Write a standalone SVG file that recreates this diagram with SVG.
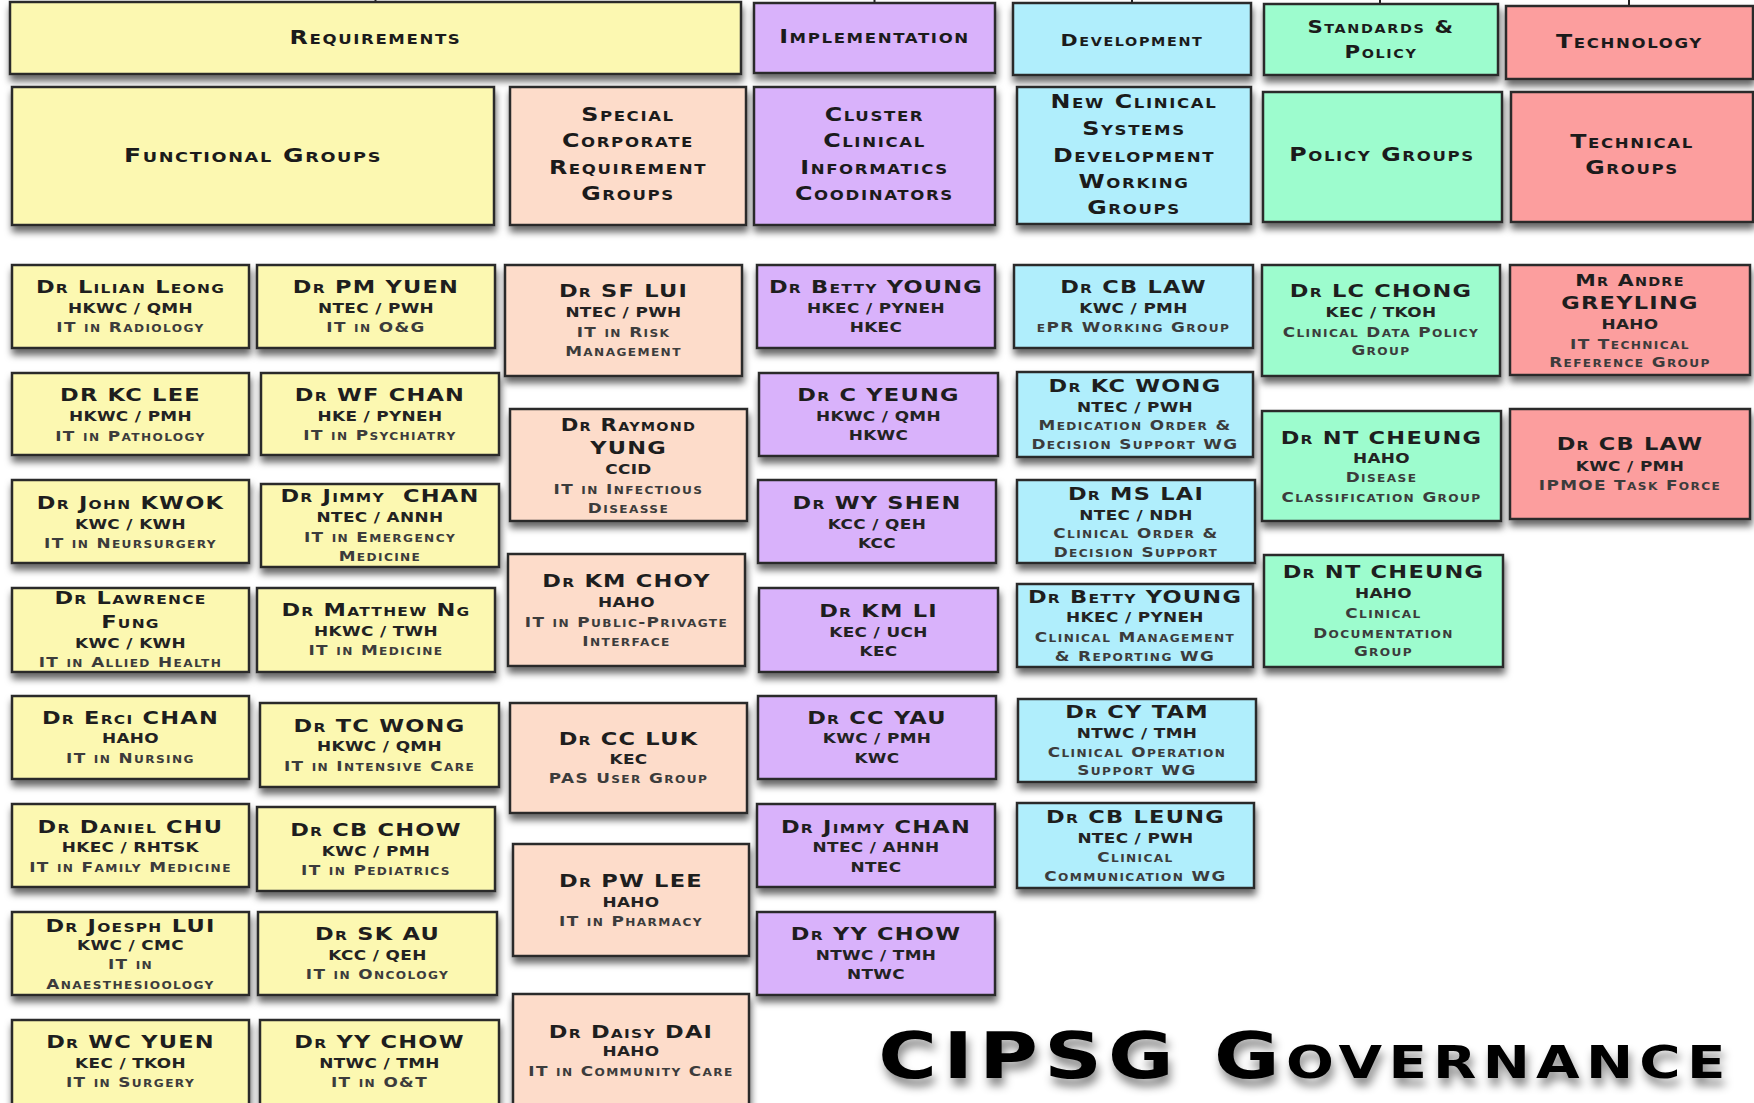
<svg xmlns="http://www.w3.org/2000/svg" width="1754" height="1103" viewBox="0 0 1754 1103">
  <defs>
    <filter id="sh" x="-10%" y="-15%" width="125%" height="150%">
      <feDropShadow dx="1" dy="6" stdDeviation="3.5" flood-color="#000" flood-opacity="0.6"/>
    </filter>
    <filter id="tsh" x="-5%" y="-20%" width="110%" height="160%">
      <feDropShadow dx="2" dy="8" stdDeviation="4" flood-color="#000" flood-opacity="0.45"/>
    </filter>
    <style>
      rect { stroke: #2c2c2c; stroke-width: 2.5; filter: url(#sh); }
      .y { fill: #FCF8B1; }
      .p { fill: #FDDCCA; }
      .v { fill: #D9B2FB; }
      .c { fill: #B0EEFC; }
      .g { fill: #9DFCCE; }
      .r { fill: #FC9E9E; }
      text { font-family: "DejaVu Sans", "Liberation Sans", sans-serif; font-weight: bold; text-anchor: middle;
             font-variant: small-caps; transform-box: fill-box; transform-origin: center; transform: scaleX(1.25); }
      .h { font-size: 19px; letter-spacing: 1.3px; fill: #1b1b1b; }
      .nm { font-size: 18px; letter-spacing: 1px; fill: #1e1e1e; }
      .og { font-size: 13.5px; letter-spacing: 0.3px; fill: #232323; }
      .rl { font-size: 13.5px; letter-spacing: 1.1px; fill: #3c3c3c; }
      .ttl { font-size: 64px; letter-spacing: 5px; fill: #000; filter: url(#tsh); }
      #connectors line { stroke: #222; stroke-width: 2; }
    </style>
  </defs>
  <rect x="0" y="0" width="1754" height="1103" fill="#fff" style="stroke:none;filter:none"/>

  <!-- lines coming down into the top-level headers -->
  <g id="connectors">
    <line x1="375.5" y1="0" x2="375.5" y2="3"/>
    <line x1="874.5" y1="0" x2="874.5" y2="4"/>
    <line x1="1132" y1="0" x2="1132" y2="4"/>
    <line x1="1380" y1="0" x2="1380" y2="5"/>
    <line x1="1629" y1="0" x2="1629" y2="7"/>
  </g>

  <!-- top-level headers -->
  <g id="h-requirements"><rect class="y" x="10" y="2" width="731" height="72"/><text class="h" x="375.5" y="44">Requirements</text></g>
  <g id="h-implementation"><rect class="v" x="754" y="3" width="241" height="70"/><text class="h" x="874.5" y="43">Implementation</text></g>
  <g id="h-development"><rect class="c" x="1013" y="3" width="238" height="72"/><text class="h" x="1132" y="46" style="font-size:16.5px">Development</text></g>
  <g id="h-standards"><rect class="g" x="1264" y="4" width="234" height="71"/><text class="h" x="1381" y="33" style="font-size:17px">Standards &amp;</text><text class="h" x="1381" y="58" style="font-size:17px">Policy</text></g>
  <g id="h-technology"><rect class="r" x="1506" y="6" width="247" height="73"/><text class="h" x="1629.5" y="48">Technology</text></g>

  <!-- group headers -->
  <g id="g-functional"><rect class="y" x="12" y="87" width="482" height="138"/><text class="h" x="253" y="162" style="font-size:20px">Functional Groups</text></g>
  <g id="g-special"><rect class="p" x="510" y="87" width="236" height="138"/>
    <text class="h" x="628" y="121">Special</text><text class="h" x="628" y="147">Corporate</text><text class="h" x="628" y="174">Requirement</text><text class="h" x="628" y="200">Groups</text></g>
  <g id="g-cluster"><rect class="v" x="754" y="87" width="241" height="138"/>
    <text class="h" x="874.5" y="121">Cluster</text><text class="h" x="874.5" y="147">Clinical</text><text class="h" x="874.5" y="174">Informatics</text><text class="h" x="874.5" y="200">Coodinators</text></g>
  <g id="g-newclinical"><rect class="c" x="1017" y="87" width="234" height="137"/>
    <text class="h" x="1134" y="108">New Clinical</text><text class="h" x="1134" y="135">Systems</text><text class="h" x="1134" y="162">Development</text><text class="h" x="1134" y="188">Working</text><text class="h" x="1134" y="214">Groups</text></g>
  <g id="g-policy"><rect class="g" x="1263" y="92" width="239" height="130"/><text class="h" x="1382" y="161">Policy Groups</text></g>
  <g id="g-technical"><rect class="r" x="1511" y="92" width="242" height="130"/><text class="h" x="1632" y="148">Technical</text><text class="h" x="1632" y="174">Groups</text></g>

  <!-- functional groups, left column -->
  <g id="n-lilian-leong"><rect class="y" x="12" y="265" width="237" height="83"/><text class="nm" x="130.5" y="293">Dr Lilian Leong</text><text class="og" x="130.5" y="313">HKWC / QMH</text><text class="rl" x="130.5" y="332">IT in Radiology</text></g>
  <g id="n-kc-lee"><rect class="y" x="12" y="373" width="237" height="82"/><text class="nm" x="130.5" y="401">DR KC LEE</text><text class="og" x="130.5" y="421">HKWC / PMH</text><text class="rl" x="130.5" y="441">IT in Pathology</text></g>
  <g id="n-john-kwok"><rect class="y" x="12" y="480" width="237" height="83"/><text class="nm" x="130.5" y="509">Dr John KWOK</text><text class="og" x="130.5" y="529">KWC / KWH</text><text class="rl" x="130.5" y="548">IT in Neursurgery</text></g>
  <g id="n-lawrence-fung"><rect class="y" x="12" y="588" width="237" height="84"/><text class="nm" x="130.5" y="604">Dr Lawrence</text><text class="nm" x="130.5" y="628">Fung</text><text class="og" x="130.5" y="648">KWC / KWH</text><text class="rl" x="130.5" y="667">IT in Allied Health</text></g>
  <g id="n-erci-chan"><rect class="y" x="12" y="696" width="237" height="83"/><text class="nm" x="130.5" y="724">Dr Erci CHAN</text><text class="og" x="130.5" y="743">HAHO</text><text class="rl" x="130.5" y="763">IT in Nursing</text></g>
  <g id="n-daniel-chu"><rect class="y" x="12" y="804" width="237" height="83"/><text class="nm" x="130.5" y="833">Dr Daniel CHU</text><text class="og" x="130.5" y="852">HKEC / RHTSK</text><text class="rl" x="130.5" y="872">IT in Family Medicine</text></g>
  <g id="n-joesph-lui"><rect class="y" x="12" y="912" width="237" height="83"/><text class="nm" x="130.5" y="932">Dr Joesph LUI</text><text class="og" x="130.5" y="950">KWC / CMC</text><text class="rl" x="130.5" y="969">IT in</text><text class="rl" x="130.5" y="989">Anaesthesioology</text></g>
  <g id="n-wc-yuen"><rect class="y" x="12" y="1020" width="237" height="90"/><text class="nm" x="130.5" y="1048">Dr WC YUEN</text><text class="og" x="130.5" y="1068">KEC / TKOH</text><text class="rl" x="130.5" y="1087">IT in Surgery</text></g>

  <!-- functional groups, right column -->
  <g id="n-pm-yuen"><rect class="y" x="257" y="265" width="238" height="83"/><text class="nm" x="376" y="293">Dr PM YUEN</text><text class="og" x="376" y="313">NTEC / PWH</text><text class="rl" x="376" y="332">IT in O&amp;G</text></g>
  <g id="n-wf-chan"><rect class="y" x="261" y="373" width="238" height="82"/><text class="nm" x="380" y="401">Dr WF CHAN</text><text class="og" x="380" y="421">HKE / PYNEH</text><text class="rl" x="380" y="440">IT in Psychiatry</text></g>
  <g id="n-jimmy-chan-f"><rect class="y" x="261" y="484" width="238" height="83"/><text class="nm" x="380" y="502" xml:space="preserve">Dr Jimmy  CHAN</text><text class="og" x="380" y="522">NTEC / ANNH</text><text class="rl" x="380" y="542">IT in Emergency</text><text class="rl" x="380" y="561">Medicine</text></g>
  <g id="n-matthew-ng"><rect class="y" x="257" y="588" width="238" height="84"/><text class="nm" x="376" y="616">Dr Matthew Ng</text><text class="og" x="376" y="636">HKWC / TWH</text><text class="rl" x="376" y="655">IT in Medicine</text></g>
  <g id="n-tc-wong"><rect class="y" x="260" y="703" width="239" height="84"/><text class="nm" x="379.5" y="732">Dr TC WONG</text><text class="og" x="379.5" y="751">HKWC / QMH</text><text class="rl" x="379.5" y="771">IT in Intensive Care</text></g>
  <g id="n-cb-chow"><rect class="y" x="257" y="807" width="238" height="84"/><text class="nm" x="376" y="836">Dr CB CHOW</text><text class="og" x="376" y="856">KWC / PMH</text><text class="rl" x="376" y="875">IT in Pediatrics</text></g>
  <g id="n-sk-au"><rect class="y" x="258" y="912" width="239" height="83"/><text class="nm" x="377.5" y="940">Dr SK AU</text><text class="og" x="377.5" y="960">KCC / QEH</text><text class="rl" x="377.5" y="979">IT in Oncology</text></g>
  <g id="n-yy-chow-f"><rect class="y" x="260" y="1020" width="239" height="90"/><text class="nm" x="379.5" y="1048">Dr YY CHOW</text><text class="og" x="379.5" y="1068">NTWC / TMH</text><text class="rl" x="379.5" y="1087">IT in O&amp;T</text></g>

  <!-- special corporate requirement groups -->
  <g id="n-sf-lui"><rect class="p" x="505" y="265" width="237" height="111"/><text class="nm" x="623.5" y="297">Dr SF LUI</text><text class="og" x="623.5" y="317">NTEC / PWH</text><text class="rl" x="623.5" y="337">IT in Risk</text><text class="rl" x="623.5" y="356">Management</text></g>
  <g id="n-raymond-yung"><rect class="p" x="510" y="409" width="237" height="112"/><text class="nm" x="628.5" y="431" style="font-size:17px">Dr Raymond</text><text class="nm" x="628.5" y="454">YUNG</text><text class="og" x="628.5" y="474">CCID</text><text class="rl" x="628.5" y="494">IT in Infectious</text><text class="rl" x="628.5" y="513">Diseasse</text></g>
  <g id="n-km-choy"><rect class="p" x="508" y="554" width="237" height="112"/><text class="nm" x="626.5" y="587">Dr KM CHOY</text><text class="og" x="626.5" y="607">HAHO</text><text class="rl" x="626.5" y="627">IT in Public-Privagte</text><text class="rl" x="626.5" y="646">Interface</text></g>
  <g id="n-cc-luk"><rect class="p" x="510" y="703" width="237" height="110"/><text class="nm" x="628.5" y="745">Dr CC LUK</text><text class="og" x="628.5" y="764">KEC</text><text class="rl" x="628.5" y="783">PAS User Group</text></g>
  <g id="n-pw-lee"><rect class="p" x="513" y="844" width="236" height="112"/><text class="nm" x="631" y="887">Dr PW LEE</text><text class="og" x="631" y="907">HAHO</text><text class="rl" x="631" y="926">IT in Pharmacy</text></g>
  <g id="n-daisy-dai"><rect class="p" x="513" y="994" width="236" height="116"/><text class="nm" x="631" y="1038">Dr Daisy DAI</text><text class="og" x="631" y="1056">HAHO</text><text class="rl" x="631" y="1076">IT in Community Care</text></g>

  <!-- cluster clinical informatics coordinators -->
  <g id="n-betty-young-i"><rect class="v" x="757" y="265" width="238" height="83"/><text class="nm" x="876" y="293">Dr Betty YOUNG</text><text class="og" x="876" y="313">HKEC / PYNEH</text><text class="og" x="876" y="332">HKEC</text></g>
  <g id="n-c-yeung"><rect class="v" x="759" y="373" width="239" height="83"/><text class="nm" x="878.5" y="401">Dr C YEUNG</text><text class="og" x="878.5" y="421">HKWC / QMH</text><text class="og" x="878.5" y="440">HKWC</text></g>
  <g id="n-wy-shen"><rect class="v" x="758" y="480" width="238" height="83"/><text class="nm" x="877" y="509">Dr WY SHEN</text><text class="og" x="877" y="529">KCC / QEH</text><text class="og" x="877" y="548">KCC</text></g>
  <g id="n-km-li"><rect class="v" x="759" y="588" width="239" height="84"/><text class="nm" x="878.5" y="617">Dr KM LI</text><text class="og" x="878.5" y="637">KEC / UCH</text><text class="og" x="878.5" y="656">KEC</text></g>
  <g id="n-cc-yau"><rect class="v" x="758" y="696" width="238" height="83"/><text class="nm" x="877" y="724">Dr CC YAU</text><text class="og" x="877" y="743">KWC / PMH</text><text class="og" x="877" y="763">KWC</text></g>
  <g id="n-jimmy-chan-i"><rect class="v" x="757" y="804" width="238" height="83"/><text class="nm" x="876" y="833">Dr Jimmy CHAN</text><text class="og" x="876" y="852">NTEC / AHNH</text><text class="og" x="876" y="872">NTEC</text></g>
  <g id="n-yy-chow-i"><rect class="v" x="757" y="912" width="238" height="83"/><text class="nm" x="876" y="940">Dr YY CHOW</text><text class="og" x="876" y="960">NTWC / TMH</text><text class="og" x="876" y="979">NTWC</text></g>

  <!-- new clinical systems development working groups -->
  <g id="n-cb-law-d"><rect class="c" x="1014" y="265" width="239" height="83"/><text class="nm" x="1133.5" y="293">Dr CB LAW</text><text class="og" x="1133.5" y="313">KWC / PMH</text><text class="rl" x="1133.5" y="332">ePR Working Group</text></g>
  <g id="n-kc-wong"><rect class="c" x="1017" y="372" width="236" height="85"/><text class="nm" x="1135" y="392">Dr KC WONG</text><text class="og" x="1135" y="412">NTEC / PWH</text><text class="rl" x="1135" y="430">Medication Order &amp;</text><text class="rl" x="1135" y="449">Decision Support WG</text></g>
  <g id="n-ms-lai"><rect class="c" x="1017" y="480" width="238" height="83"/><text class="nm" x="1136" y="500">Dr MS LAI</text><text class="og" x="1136" y="520">NTEC / NDH</text><text class="rl" x="1136" y="538">Clinical Order &amp;</text><text class="rl" x="1136" y="557">Decision Support</text></g>
  <g id="n-betty-young-d"><rect class="c" x="1017" y="584" width="236" height="83"/><text class="nm" x="1135" y="603">Dr Betty YOUNG</text><text class="og" x="1135" y="622">HKEC / PYNEH</text><text class="rl" x="1135" y="642">Clinical Management</text><text class="rl" x="1135" y="661">&amp; Reporting WG</text></g>
  <g id="n-cy-tam"><rect class="c" x="1018" y="699" width="238" height="83"/><text class="nm" x="1137" y="718">Dr CY TAM</text><text class="og" x="1137" y="738">NTWC / TMH</text><text class="rl" x="1137" y="757">Clinical Operation</text><text class="rl" x="1137" y="775">Support WG</text></g>
  <g id="n-cb-leung"><rect class="c" x="1017" y="803" width="237" height="85"/><text class="nm" x="1135.5" y="823">Dr CB LEUNG</text><text class="og" x="1135.5" y="843">NTEC / PWH</text><text class="rl" x="1135.5" y="862">Clinical</text><text class="rl" x="1135.5" y="881">Communication WG</text></g>

  <!-- policy groups -->
  <g id="n-lc-chong"><rect class="g" x="1262" y="265" width="238" height="111"/><text class="nm" x="1381" y="297">Dr LC CHONG</text><text class="og" x="1381" y="317">KEC / TKOH</text><text class="rl" x="1381" y="337">Clinical Data Policy</text><text class="rl" x="1381" y="355">Group</text></g>
  <g id="n-nt-cheung-1"><rect class="g" x="1262" y="411" width="239" height="110"/><text class="nm" x="1381.5" y="444">Dr NT CHEUNG</text><text class="og" x="1381.5" y="463">HAHO</text><text class="rl" x="1381.5" y="482">Disease</text><text class="rl" x="1381.5" y="502">Classification Group</text></g>
  <g id="n-nt-cheung-2"><rect class="g" x="1264" y="555" width="239" height="112"/><text class="nm" x="1383.5" y="578">Dr NT CHEUNG</text><text class="og" x="1383.5" y="598">HAHO</text><text class="rl" x="1383.5" y="618">Clinical</text><text class="rl" x="1383.5" y="638">Documentation</text><text class="rl" x="1383.5" y="656">Group</text></g>

  <!-- technical groups -->
  <g id="n-andre-greyling"><rect class="r" x="1510" y="265" width="240" height="110"/><text class="nm" x="1630" y="286" style="font-size:16.5px">Mr Andre</text><text class="nm" x="1630" y="309">GREYLING</text><text class="og" x="1630" y="329">HAHO</text><text class="rl" x="1630" y="349">IT Technical</text><text class="rl" x="1630" y="367">Reference Group</text></g>
  <g id="n-cb-law-t"><rect class="r" x="1510" y="409" width="240" height="110"/><text class="nm" x="1630" y="450">Dr CB LAW</text><text class="og" x="1630" y="471">KWC / PMH</text><text class="rl" x="1630" y="490">IPMOE Task Force</text></g>

  <text id="title" class="ttl" x="1305" y="1078">CIPSG Governance</text>
</svg>
